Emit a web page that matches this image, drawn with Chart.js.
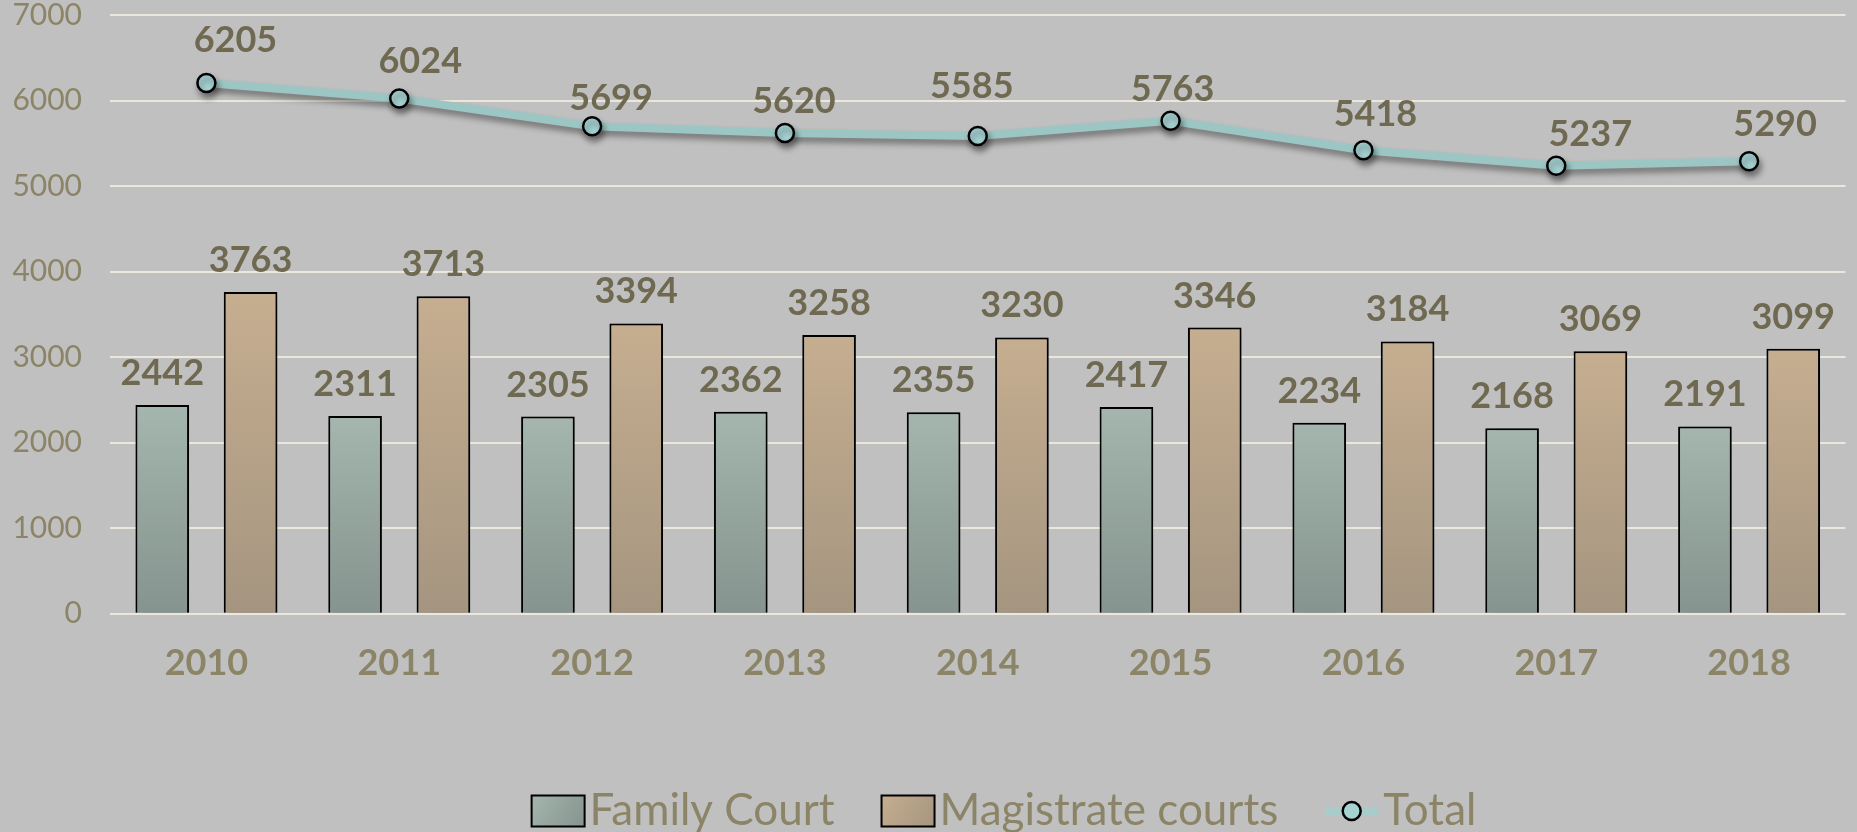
<!DOCTYPE html>
<html>
<head>
<meta charset="utf-8">
<script src="https://cdn.jsdelivr.net/npm/chart.js@4.4.1/dist/chart.umd.min.js"></script>
<style>
  html, body { margin: 0; padding: 0; background: #c0c0c0; }
  #wrap { width: 1857px; height: 832px; position: relative; }
  canvas { display: block; }
</style>
</head>
<body>
<div id="wrap"><canvas id="c" width="1857" height="832"></canvas></div>
<script>
// ---- data ----
const categories = ['2010', '2011', '2012', '2013', '2014', '2015', '2016', '2017', '2018'];
const familyCourt = [2442, 2311, 2305, 2362, 2355, 2417, 2234, 2168, 2191];
const magistrateCourts = [3763, 3713, 3394, 3258, 3230, 3346, 3184, 3069, 3099];
const totalCases = [6205, 6024, 5699, 5620, 5585, 5763, 5418, 5237, 5290];
const seriesNames = ['Family Court', 'Magistrate courts', 'Total'];
const yTickValues = [0, 1000, 2000, 3000, 4000, 5000, 6000, 7000];

// ---- label nudges for the Total line (px, relative to point) ----
const totalLabelNudge = [[29, -44], [21, -38], [19, -29], [9, -33], [-6, -51], [2, -33], [12, -37], [34, -33], [26, -38]];

const FONT = 'Lato, "Open Sans", sans-serif';
const TICK_COLOR = '#8b8466';
const LABEL_COLOR = '#6e6950';

function barGradient(topColor, bottomColor) {
  return function (c) {
    const chart = c.chart;
    if (!chart.chartArea || c.type !== 'data' || !chart.scales.y) return topColor;
    const y = chart.scales.y;
    const yt = y.getPixelForValue(c.raw);
    const yb = y.getPixelForValue(0);
    const g = chart.ctx.createLinearGradient(0, yt, 0, yb);
    g.addColorStop(0, topColor);
    g.addColorStop(1, bottomColor);
    return g;
  };
}

const shadowPlugin = {
  id: 'shadows',
  beforeDatasetDraw(chart, args) {
    const ctx = chart.ctx;
    ctx.save();
    if (args.meta.type === 'bar') {
      ctx.shadowColor = 'rgba(0,0,0,0.35)';
      ctx.shadowBlur = 8;
      ctx.shadowOffsetX = 2;
      ctx.shadowOffsetY = 2;
    } else {
      ctx.shadowColor = 'rgba(0,0,0,0.4)';
      ctx.shadowBlur = 6;
      ctx.shadowOffsetX = 2;
      ctx.shadowOffsetY = 5;
    }
  },
  afterDatasetDraw(chart) {
    chart.ctx.restore();
  }
};

const valueLabels = {
  id: 'valueLabels',
  afterDatasetsDraw(chart) {
    const ctx = chart.ctx;
    ctx.save();
    ctx.font = 'bold 36px ' + FONT;
    ctx.fillStyle = LABEL_COLOR;
    ctx.textAlign = 'center';
    ctx.textBaseline = 'alphabetic';
    chart.data.datasets.forEach((ds, i) => {
      const meta = chart.getDatasetMeta(i);
      meta.data.forEach((el, j) => {
        let x = el.x, y;
        if (meta.type === 'bar') {
          y = el.y - 20;
        } else {
          x += totalLabelNudge[j][0];
          y = el.y + totalLabelNudge[j][1] + 13;
        }
        ctx.fillText(String(ds.data[j]), x, y);
      });
    });
    ctx.restore();
  }
};

const customLegend = {
  id: 'customLegend',
  afterDraw(chart) {
    const ctx = chart.ctx;
    ctx.save();
    ctx.font = '44px ' + FONT;
    ctx.textBaseline = 'middle';
    ctx.textAlign = 'left';
    const cy = 811;
    const boxW = 53, boxH = 31, symGap = 5, itemGap = 47;
    const widths = seriesNames.map(n => ctx.measureText(n).width);
    const totalW = widths.reduce((a, b) => a + b, 0) + 3 * (boxW + symGap) + 2 * itemGap;
    let x = 1004 - totalW / 2;
    const fills = [['#a4b6ae', '#85948e'], ['#c6ae90', '#a59580']];
    seriesNames.forEach((name, i) => {
      if (i < 2) {
        const g = ctx.createLinearGradient(x, cy - boxH / 2, x + boxW, cy + boxH / 2);
        g.addColorStop(0, fills[i][0]);
        g.addColorStop(1, fills[i][1]);
        ctx.fillStyle = g;
        ctx.fillRect(x, cy - boxH / 2, boxW, boxH);
        ctx.lineWidth = 2;
        ctx.strokeStyle = '#000';
        ctx.strokeRect(x, cy - boxH / 2, boxW, boxH);
      } else {
        ctx.strokeStyle = '#a8cccb';
        ctx.lineWidth = 8;
        ctx.beginPath();
        ctx.moveTo(x, cy);
        ctx.lineTo(x + boxW, cy);
        ctx.stroke();
        ctx.beginPath();
        ctx.arc(x + boxW / 2, cy, 9, 0, Math.PI * 2);
        ctx.fillStyle = '#a6d2d2';
        ctx.fill();
        ctx.lineWidth = 2.5;
        ctx.strokeStyle = '#000';
        ctx.stroke();
      }
      x += boxW + symGap;
      ctx.fillStyle = TICK_COLOR;
      ctx.fillText(name, x, cy);
      x += widths[i] + itemGap;
    });
    ctx.restore();
  }
};

const bgPlugin = {
  id: 'bg',
  beforeDraw(chart) {
    const ctx = chart.ctx;
    ctx.save();
    ctx.fillStyle = '#c0c0c0';
    ctx.fillRect(0, 0, chart.width, chart.height);
    ctx.restore();
  }
};

new Chart(document.getElementById('c'), {
  type: 'bar',
  data: {
    labels: categories,
    datasets: [
      {
        type: 'line',
        label: seriesNames[2],
        data: totalCases,
        order: 0,
        borderColor: '#9cc6c4',
        borderWidth: 8,
        tension: 0,
        pointRadius: 9,
        pointBorderWidth: 2.5,
        pointBorderColor: '#000',
        pointBackgroundColor: '#a6d2d2',
        pointHoverRadius: 9
      },
      {
        label: seriesNames[0],
        data: familyCourt,
        order: 1,
        backgroundColor: barGradient('#a4b6ae', '#85948e'),
        borderColor: '#000',
        borderWidth: 2,
        categoryPercentage: 0.916,
        barPercentage: 0.607
      },
      {
        label: seriesNames[1],
        data: magistrateCourts,
        order: 1,
        backgroundColor: barGradient('#c6ae90', '#a59580'),
        borderColor: '#000',
        borderWidth: 2,
        categoryPercentage: 0.916,
        barPercentage: 0.607
      }
    ]
  },
  options: {
    responsive: false,
    animation: false,
    layout: { padding: { top: 0, right: 0, left: 0, bottom: 119 } },
    plugins: {
      legend: { display: false },
      tooltip: { enabled: false },
      title: { display: false }
    },
    scales: {
      x: {
        grid: { display: false, drawTicks: false },
        border: { display: false },
        ticks: {
          color: TICK_COLOR,
          font: { family: FONT, size: 36, weight: 'bold', lineHeight: 1.2 },
          padding: 28
        }
      },
      y: {
        min: yTickValues[0],
        max: yTickValues[yTickValues.length - 1],
        afterBuildTicks(scale) {
          scale.ticks = yTickValues.map(v => ({ value: v }));
        },
        afterFit(scale) { scale.width = 110; },
        grid: { color: '#ebe7da', lineWidth: 2, drawTicks: true, tickLength: 28, tickColor: 'rgba(0,0,0,0)' },
        border: { display: false },
        ticks: {
          color: TICK_COLOR,
          font: { family: FONT, size: 30, lineHeight: 1.0 },
          padding: 0,
          callback: (v) => String(v)
        }
      }
    }
  },
  plugins: [bgPlugin, shadowPlugin, valueLabels, customLegend]
});
</script>
</body>
</html>
